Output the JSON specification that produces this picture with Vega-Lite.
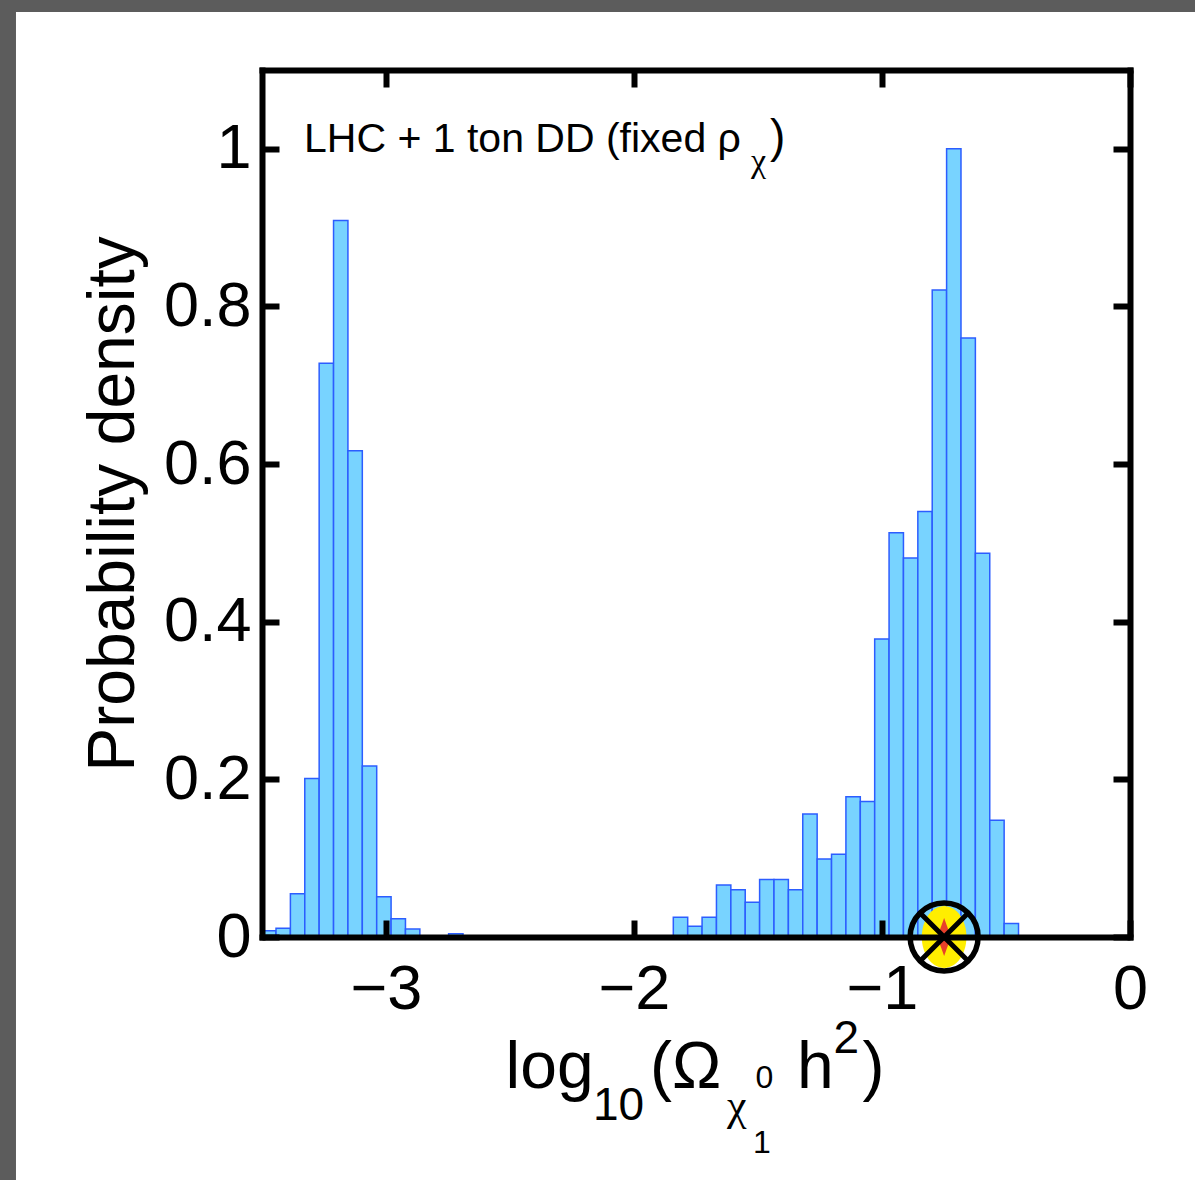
{
  "$schema": "https://vega.github.io/schema/vega-lite/v6.json",
  "width": 868,
  "height": 867,
  "autosize": {"type": "none"},
  "padding": {"left": 262, "top": 70, "right": 65, "bottom": 243},
  "background": "#5c5c5c",
  "config": {
    "view": {"stroke": null},
    "font": "Liberation Sans",
    "axis": {"zindex": 1, "grid": false}
  },
  "datasets": {
    "bins": [
      {"lo": -3.5015, "hi": -3.4435, "density": 0.008},
      {"lo": -3.4435, "hi": -3.3855, "density": 0.011},
      {"lo": -3.3855, "hi": -3.3275, "density": 0.055},
      {"lo": -3.3275, "hi": -3.2695, "density": 0.201},
      {"lo": -3.2695, "hi": -3.2115, "density": 0.728},
      {"lo": -3.2115, "hi": -3.1535, "density": 0.909},
      {"lo": -3.1535, "hi": -3.0955, "density": 0.617},
      {"lo": -3.0955, "hi": -3.0375, "density": 0.217},
      {"lo": -3.0375, "hi": -2.9795, "density": 0.051},
      {"lo": -2.9795, "hi": -2.9215, "density": 0.023},
      {"lo": -2.9215, "hi": -2.8635, "density": 0.010},
      {"lo": -2.7475, "hi": -2.6895, "density": 0.004},
      {"lo": -1.8415, "hi": -1.7835, "density": 0.025},
      {"lo": -1.7835, "hi": -1.7255, "density": 0.0135},
      {"lo": -1.7255, "hi": -1.6675, "density": 0.025},
      {"lo": -1.6675, "hi": -1.6095, "density": 0.066},
      {"lo": -1.6095, "hi": -1.5515, "density": 0.060},
      {"lo": -1.5515, "hi": -1.4935, "density": 0.044},
      {"lo": -1.4935, "hi": -1.4355, "density": 0.073},
      {"lo": -1.4355, "hi": -1.3775, "density": 0.073},
      {"lo": -1.3775, "hi": -1.3195, "density": 0.060},
      {"lo": -1.3195, "hi": -1.2615, "density": 0.156},
      {"lo": -1.2615, "hi": -1.2035, "density": 0.099},
      {"lo": -1.2035, "hi": -1.1455, "density": 0.105},
      {"lo": -1.1455, "hi": -1.0875, "density": 0.178},
      {"lo": -1.0875, "hi": -1.0295, "density": 0.172},
      {"lo": -1.0295, "hi": -0.9715, "density": 0.378},
      {"lo": -0.9715, "hi": -0.9135, "density": 0.513},
      {"lo": -0.9135, "hi": -0.8555, "density": 0.481},
      {"lo": -0.8555, "hi": -0.7975, "density": 0.540},
      {"lo": -0.7975, "hi": -0.7395, "density": 0.821},
      {"lo": -0.7395, "hi": -0.6815, "density": 1.0},
      {"lo": -0.6815, "hi": -0.6235, "density": 0.760},
      {"lo": -0.6235, "hi": -0.5655, "density": 0.487},
      {"lo": -0.5655, "hi": -0.5075, "density": 0.148},
      {"lo": -0.5075, "hi": -0.4495, "density": 0.017}
    ]
  },
  "resolve": {"axis": {"x": "independent", "y": "independent"}},
  "layer": [
    {
      "data": {"values": [{}]},
      "mark": {"type": "rect", "fill": "white", "clip": false},
      "encoding": {
        "x": {"datum": -4.492, "type": "quantitative", "scale": {"domain": [-3.5, 0], "nice": false, "zero": false}, "axis": null},
        "x2": {"datum": 0.5},
        "y": {"datum": -0.45, "type": "quantitative", "scale": {"domain": [0, 1.1], "nice": false, "zero": false}, "axis": null},
        "y2": {"datum": 1.1736}
      }
    },
    {
      "data": {"name": "bins"},
      "mark": {"type": "rect", "fill": "#78D3FF", "stroke": "#2C5DFF", "strokeWidth": 1.5, "clip": true},
      "encoding": {
        "x": {
          "field": "lo", "type": "quantitative",
          "scale": {"domain": [-3.5, 0], "nice": false, "zero": false},
          "axis": {
            "orient": "bottom", "values": [-3, -2, -1, 0], "format": "d",
            "tickSize": -17, "tickWidth": 6, "tickColor": "black",
            "domainColor": "black", "domainWidth": 6, "domainCap": "square",
            "labelPadding": 88, "labelBaseline": "alphabetic", "labelFontSize": 63,
            "labelColor": "black", "labelFont": "Liberation Sans",
            "labelFlush": false, "labelOverlap": false, "title": null, "zindex": 1
          }
        },
        "x2": {"field": "hi"},
        "y": {
          "field": "density", "type": "quantitative",
          "scale": {"domain": [0, 1.1], "nice": false, "zero": false},
          "axis": {
            "orient": "left", "values": [0, 0.2, 0.4, 0.6, 0.8, 1], "format": "~g",
            "tickSize": -17, "tickWidth": 6, "tickColor": "black",
            "domainColor": "black", "domainWidth": 6, "domainCap": "square",
            "labelPadding": 28, "labelFontSize": 63, "labelColor": "black",
            "labelFont": "Liberation Sans", "labelFlush": false, "labelOverlap": false,
            "title": "Probability density", "titleFontSize": 66, "titleFont": "Liberation Sans",
            "titleFontWeight": "normal", "titleColor": "black",
            "titleX": -129, "titleY": 433.5, "titleAngle": 270,
            "titleBaseline": "alphabetic", "titleAlign": "center", "zindex": 1
          }
        },
        "y2": {"datum": 0}
      }
    },
    {
      "data": {"name": "bins"},
      "mark": {"type": "point", "opacity": 0, "clip": true},
      "encoding": {
        "x": {
          "field": "lo", "type": "quantitative",
          "scale": {"domain": [-3.5, 0], "nice": false, "zero": false},
          "axis": {
            "orient": "top", "values": [-3, -2, -1, 0], "labels": false,
            "tickSize": -17, "tickWidth": 6, "tickColor": "black",
            "domainColor": "black", "domainWidth": 6, "domainCap": "square",
            "title": null, "zindex": 1
          }
        },
        "y": {
          "field": "density", "type": "quantitative",
          "scale": {"domain": [0, 1.1], "nice": false, "zero": false},
          "axis": {
            "orient": "right", "values": [0, 0.2, 0.4, 0.6, 0.8, 1], "labels": false,
            "tickSize": -17, "tickWidth": 6, "tickColor": "black",
            "domainColor": "black", "domainWidth": 6, "domainCap": "square",
            "title": null, "zindex": 1
          }
        }
      }
    },
    {
      "data": {"values": [{}]},
      "mark": {"type": "point", "shape": "M-0.72,0A0.72,1,0,1,0,0.72,0A0.72,1,0,1,0,-0.72,0Z", "size": 3844, "filled": true, "fill": "#FFEE00", "strokeWidth": 0, "opacity": 1, "clip": false},
      "encoding": {
        "x": {"datum": -0.7495, "type": "quantitative", "scale": {"domain": [-3.5, 0], "nice": false, "zero": false}, "axis": null},
        "y": {"datum": 0, "type": "quantitative", "scale": {"domain": [0, 1.1], "nice": false, "zero": false}, "axis": null}
      }
    },
    {
      "data": {"values": [{}]},
      "mark": {"type": "point", "shape": "M0,-1L0.36,0L0,1L-0.36,0Z", "size": 1444, "filled": true, "fill": "#E8402A", "strokeWidth": 0, "opacity": 1, "clip": false},
      "encoding": {
        "x": {"datum": -0.7495, "type": "quantitative", "scale": {"domain": [-3.5, 0], "nice": false, "zero": false}, "axis": null},
        "y": {"datum": 0, "type": "quantitative", "scale": {"domain": [0, 1.1], "nice": false, "zero": false}, "axis": null}
      }
    },
    {
      "data": {"values": [{}]},
      "mark": {"type": "point", "shape": "circle", "size": 4624, "filled": false, "stroke": "black", "strokeWidth": 5.5, "opacity": 1, "clip": false},
      "encoding": {
        "x": {"datum": -0.7495, "type": "quantitative", "scale": {"domain": [-3.5, 0], "nice": false, "zero": false}, "axis": null},
        "y": {"datum": 0, "type": "quantitative", "scale": {"domain": [0, 1.1], "nice": false, "zero": false}, "axis": null}
      }
    },
    {
      "data": {"values": [{}]},
      "mark": {"type": "point", "shape": "M-1,-1L1,1M-1,1L1,-1", "size": 2304, "filled": false, "stroke": "black", "strokeWidth": 5, "opacity": 1, "clip": false},
      "encoding": {
        "x": {"datum": -0.7495, "type": "quantitative", "scale": {"domain": [-3.5, 0], "nice": false, "zero": false}, "axis": null},
        "y": {"datum": 0, "type": "quantitative", "scale": {"domain": [0, 1.1], "nice": false, "zero": false}, "axis": null}
      }
    },
    {
      "data": {"values": [{}]},
      "mark": {"type": "text", "text": "LHC + 1 ton DD (fixed ρ", "fontSize": 41, "align": "left", "baseline": "alphabetic", "font": "Liberation Sans", "color": "black", "clip": false},
      "encoding": {
        "x": {"datum": -3.3306, "type": "quantitative", "scale": {"domain": [-3.5, 0], "nice": false, "zero": false}, "axis": null},
        "y": {"datum": 0.99597, "type": "quantitative", "scale": {"domain": [0, 1.1], "nice": false, "zero": false}, "axis": null}
      }
    },
    {
      "data": {"values": [{}]},
      "mark": {"type": "text", "text": "χ", "fontSize": 34, "align": "left", "baseline": "alphabetic", "font": "Liberation Serif", "color": "black", "clip": false},
      "encoding": {
        "x": {"datum": -1.5282, "type": "quantitative", "scale": {"domain": [-3.5, 0], "nice": false, "zero": false}, "axis": null},
        "y": {"datum": 0.97009, "type": "quantitative", "scale": {"domain": [0, 1.1], "nice": false, "zero": false}, "axis": null}
      }
    },
    {
      "data": {"values": [{}]},
      "mark": {"type": "text", "text": ")", "fontSize": 46, "align": "left", "baseline": "alphabetic", "font": "Liberation Sans", "color": "black", "clip": false},
      "encoding": {
        "x": {"datum": -1.4516, "type": "quantitative", "scale": {"domain": [-3.5, 0], "nice": false, "zero": false}, "axis": null},
        "y": {"datum": 0.99597, "type": "quantitative", "scale": {"domain": [0, 1.1], "nice": false, "zero": false}, "axis": null}
      }
    },
    {
      "data": {"values": [{}]},
      "mark": {"type": "text", "text": "log", "fontSize": 66, "align": "left", "baseline": "alphabetic", "font": "Liberation Sans", "color": "black", "clip": false},
      "encoding": {
        "x": {"datum": -2.5177, "type": "quantitative", "scale": {"domain": [-3.5, 0], "nice": false, "zero": false}, "axis": null},
        "y": {"datum": -0.19154, "type": "quantitative", "scale": {"domain": [0, 1.1], "nice": false, "zero": false}, "axis": null}
      }
    },
    {
      "data": {"values": [{}]},
      "mark": {"type": "text", "text": "10", "fontSize": 46, "align": "left", "baseline": "alphabetic", "font": "Liberation Sans", "color": "black", "clip": false},
      "encoding": {
        "x": {"datum": -2.1653, "type": "quantitative", "scale": {"domain": [-3.5, 0], "nice": false, "zero": false}, "axis": null},
        "y": {"datum": -0.23214, "type": "quantitative", "scale": {"domain": [0, 1.1], "nice": false, "zero": false}, "axis": null}
      }
    },
    {
      "data": {"values": [{}]},
      "mark": {"type": "text", "text": "(Ω", "fontSize": 66, "align": "left", "baseline": "alphabetic", "font": "Liberation Sans", "color": "black", "clip": false},
      "encoding": {
        "x": {"datum": -1.9355, "type": "quantitative", "scale": {"domain": [-3.5, 0], "nice": false, "zero": false}, "axis": null},
        "y": {"datum": -0.19154, "type": "quantitative", "scale": {"domain": [0, 1.1], "nice": false, "zero": false}, "axis": null}
      }
    },
    {
      "data": {"values": [{}]},
      "mark": {"type": "text", "text": "χ", "fontSize": 44, "align": "left", "baseline": "alphabetic", "font": "Liberation Serif", "color": "black", "clip": false},
      "encoding": {
        "x": {"datum": -1.625, "type": "quantitative", "scale": {"domain": [-3.5, 0], "nice": false, "zero": false}, "axis": null},
        "y": {"datum": -0.23214, "type": "quantitative", "scale": {"domain": [0, 1.1], "nice": false, "zero": false}, "axis": null}
      }
    },
    {
      "data": {"values": [{}]},
      "mark": {"type": "text", "text": "1", "fontSize": 32, "align": "left", "baseline": "alphabetic", "font": "Liberation Sans", "color": "black", "clip": false},
      "encoding": {
        "x": {"datum": -1.5202, "type": "quantitative", "scale": {"domain": [-3.5, 0], "nice": false, "zero": false}, "axis": null},
        "y": {"datum": -0.274, "type": "quantitative", "scale": {"domain": [0, 1.1], "nice": false, "zero": false}, "axis": null}
      }
    },
    {
      "data": {"values": [{}]},
      "mark": {"type": "text", "text": "0", "fontSize": 32, "align": "left", "baseline": "alphabetic", "font": "Liberation Sans", "color": "black", "clip": false},
      "encoding": {
        "x": {"datum": -1.5101, "type": "quantitative", "scale": {"domain": [-3.5, 0], "nice": false, "zero": false}, "axis": null},
        "y": {"datum": -0.19154, "type": "quantitative", "scale": {"domain": [0, 1.1], "nice": false, "zero": false}, "axis": null}
      }
    },
    {
      "data": {"values": [{}]},
      "mark": {"type": "text", "text": "h", "fontSize": 66, "align": "left", "baseline": "alphabetic", "font": "Liberation Sans", "color": "black", "clip": false},
      "encoding": {
        "x": {"datum": -1.3427, "type": "quantitative", "scale": {"domain": [-3.5, 0], "nice": false, "zero": false}, "axis": null},
        "y": {"datum": -0.19154, "type": "quantitative", "scale": {"domain": [0, 1.1], "nice": false, "zero": false}, "axis": null}
      }
    },
    {
      "data": {"values": [{}]},
      "mark": {"type": "text", "text": "2", "fontSize": 46, "align": "left", "baseline": "alphabetic", "font": "Liberation Sans", "color": "black", "clip": false},
      "encoding": {
        "x": {"datum": -1.1956, "type": "quantitative", "scale": {"domain": [-3.5, 0], "nice": false, "zero": false}, "axis": null},
        "y": {"datum": -0.14713, "type": "quantitative", "scale": {"domain": [0, 1.1], "nice": false, "zero": false}, "axis": null}
      }
    },
    {
      "data": {"values": [{}]},
      "mark": {"type": "text", "text": ")", "fontSize": 66, "align": "left", "baseline": "alphabetic", "font": "Liberation Sans", "color": "black", "clip": false},
      "encoding": {
        "x": {"datum": -1.0786, "type": "quantitative", "scale": {"domain": [-3.5, 0], "nice": false, "zero": false}, "axis": null},
        "y": {"datum": -0.19154, "type": "quantitative", "scale": {"domain": [0, 1.1], "nice": false, "zero": false}, "axis": null}
      }
    }
  ]
}
